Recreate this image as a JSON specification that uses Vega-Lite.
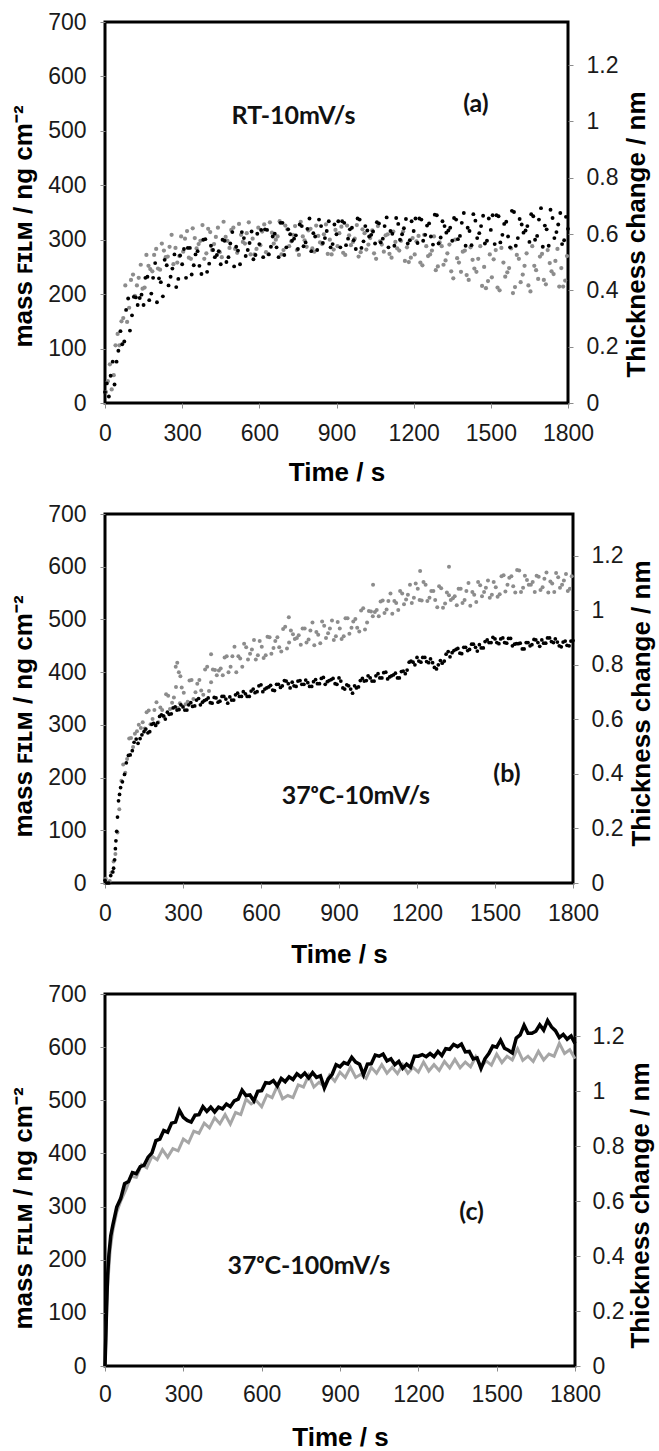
{
"$schema": "https://vega.github.io/schema/vega-lite/v6.json",
"background": "white",
"padding": {"left": 9, "top": 9, "right": 0, "bottom": 0},
"config": {
 "view": {"stroke": "#000", "strokeWidth": 3},
 "axis": {"grid": false, "domain": false, "tickSize": 5, "tickColor": "#8c8c8c", "tickWidth": 1, "labelFont": "Liberation Sans", "labelFontSize": 23, "labelColor": "#1a1a1a", "labelPadding": 14, "labelFlush": false, "labelOverlap": false, "labelBound": false, "titleFont": "Liberation Sans", "titleFontSize": 26, "titleFontWeight": "bold", "titleColor": "#000"}
},
"datasets": {
 "a_black": [
{"t":0,"m":20},{"t":15,"m":12},{"t":30,"m":76},{"t":45,"m":76},{"t":60,"m":132},{"t":75,"m":113},{"t":90,"m":192},{"t":105,"m":161},{"t":120,"m":194},{"t":135,"m":193},{"t":150,"m":180},{"t":165,"m":232},{"t":180,"m":201},{"t":195,"m":257},{"t":210,"m":229},{"t":225,"m":196},{"t":240,"m":253},{"t":255,"m":232},{"t":270,"m":273},{"t":285,"m":228},
{"t":300,"m":255},{"t":315,"m":230},{"t":330,"m":285},{"t":345,"m":253},{"t":360,"m":279},{"t":375,"m":237},{"t":390,"m":301},{"t":405,"m":256},{"t":420,"m":281},{"t":435,"m":272},{"t":450,"m":255},{"t":465,"m":298},{"t":480,"m":268},{"t":495,"m":314},{"t":510,"m":287},{"t":525,"m":255},{"t":540,"m":303},{"t":555,"m":281},{"t":570,"m":315},{"t":585,"m":272},
{"t":600,"m":292},{"t":615,"m":268},{"t":630,"m":318},{"t":645,"m":287},{"t":660,"m":311},{"t":675,"m":268},{"t":690,"m":331},{"t":705,"m":286},{"t":720,"m":310},{"t":735,"m":302},{"t":750,"m":283},{"t":765,"m":325},{"t":780,"m":295},{"t":795,"m":339},{"t":810,"m":312},{"t":825,"m":281},{"t":840,"m":325},{"t":855,"m":303},{"t":870,"m":334},{"t":885,"m":292},
{"t":900,"m":310},{"t":915,"m":286},{"t":930,"m":331},{"t":945,"m":302},{"t":960,"m":322},{"t":975,"m":283},{"t":990,"m":337},{"t":1005,"m":297},{"t":1020,"m":317},{"t":1035,"m":309},{"t":1050,"m":293},{"t":1065,"m":330},{"t":1080,"m":302},{"t":1095,"m":341},{"t":1110,"m":316},{"t":1125,"m":289},{"t":1140,"m":329},{"t":1155,"m":310},{"t":1170,"m":338},{"t":1185,"m":299},
{"t":1200,"m":316},{"t":1215,"m":294},{"t":1230,"m":337},{"t":1245,"m":309},{"t":1260,"m":330},{"t":1275,"m":291},{"t":1290,"m":345},{"t":1305,"m":304},{"t":1320,"m":325},{"t":1335,"m":317},{"t":1350,"m":298},{"t":1365,"m":337},{"t":1380,"m":307},{"t":1395,"m":349},{"t":1410,"m":322},{"t":1425,"m":290},{"t":1440,"m":335},{"t":1455,"m":312},{"t":1470,"m":344},{"t":1485,"m":298},
{"t":1500,"m":318},{"t":1515,"m":292},{"t":1530,"m":343},{"t":1545,"m":309},{"t":1560,"m":333},{"t":1575,"m":286},{"t":1590,"m":351},{"t":1605,"m":303},{"t":1620,"m":328},{"t":1635,"m":317},{"t":1650,"m":296},{"t":1665,"m":343},{"t":1680,"m":307},{"t":1695,"m":358},{"t":1710,"m":326},{"t":1725,"m":289},{"t":1740,"m":340},{"t":1755,"m":314},{"t":1770,"m":349},{"t":1785,"m":299},{"t":1800,"m":320},
{"t":7,"m":36},{"t":22,"m":50},{"t":37,"m":34},{"t":52,"m":96},{"t":67,"m":108},{"t":82,"m":171},{"t":97,"m":133},{"t":112,"m":195},{"t":127,"m":180},{"t":142,"m":199},{"t":157,"m":230},{"t":172,"m":189},{"t":187,"m":230},{"t":202,"m":185},{"t":217,"m":222},{"t":232,"m":263},{"t":247,"m":216},{"t":262,"m":247},{"t":277,"m":213},{"t":292,"m":271},
{"t":307,"m":283},{"t":322,"m":285},{"t":337,"m":236},{"t":352,"m":273},{"t":367,"m":252},{"t":382,"m":300},{"t":397,"m":241},{"t":412,"m":289},{"t":427,"m":268},{"t":442,"m":279},{"t":457,"m":300},{"t":472,"m":259},{"t":487,"m":293},{"t":502,"m":251},{"t":517,"m":280},{"t":532,"m":314},{"t":547,"m":270},{"t":562,"m":294},{"t":577,"m":264},{"t":592,"m":311},
{"t":607,"m":318},{"t":622,"m":319},{"t":637,"m":273},{"t":652,"m":306},{"t":667,"m":286},{"t":682,"m":331},{"t":697,"m":272},{"t":712,"m":319},{"t":727,"m":298},{"t":742,"m":308},{"t":757,"m":328},{"t":772,"m":288},{"t":787,"m":320},{"t":802,"m":279},{"t":817,"m":306},{"t":832,"m":337},{"t":847,"m":294},{"t":862,"m":316},{"t":877,"m":286},{"t":892,"m":328},
{"t":907,"m":334},{"t":922,"m":334},{"t":937,"m":290},{"t":952,"m":319},{"t":967,"m":299},{"t":982,"m":339},{"t":997,"m":285},{"t":1012,"m":325},{"t":1027,"m":306},{"t":1042,"m":315},{"t":1057,"m":332},{"t":1072,"m":295},{"t":1087,"m":325},{"t":1102,"m":286},{"t":1117,"m":311},{"t":1132,"m":340},{"t":1147,"m":300},{"t":1162,"m":321},{"t":1177,"m":293},{"t":1192,"m":334},
{"t":1207,"m":339},{"t":1222,"m":339},{"t":1237,"m":298},{"t":1252,"m":326},{"t":1267,"m":306},{"t":1282,"m":346},{"t":1297,"m":293},{"t":1312,"m":334},{"t":1327,"m":313},{"t":1342,"m":322},{"t":1357,"m":340},{"t":1372,"m":301},{"t":1387,"m":331},{"t":1402,"m":289},{"t":1417,"m":316},{"t":1432,"m":347},{"t":1447,"m":303},{"t":1462,"m":325},{"t":1477,"m":293},{"t":1492,"m":339},
{"t":1507,"m":345},{"t":1522,"m":345},{"t":1537,"m":295},{"t":1552,"m":329},{"t":1567,"m":306},{"t":1582,"m":353},{"t":1597,"m":289},{"t":1612,"m":338},{"t":1627,"m":313},{"t":1642,"m":325},{"t":1657,"m":347},{"t":1672,"m":300},{"t":1687,"m":337},{"t":1702,"m":287},{"t":1717,"m":319},{"t":1732,"m":355},{"t":1747,"m":303},{"t":1762,"m":328},{"t":1777,"m":292},{"t":1792,"m":342}
 ],
 "a_gray": [
{"t":4,"m":20},{"t":19,"m":71},{"t":34,"m":51},{"t":49,"m":127},{"t":64,"m":150},{"t":79,"m":216},{"t":94,"m":175},{"t":109,"m":236},{"t":124,"m":216},{"t":139,"m":254},{"t":154,"m":212},{"t":169,"m":252},{"t":184,"m":242},{"t":199,"m":283},{"t":214,"m":245},{"t":229,"m":280},{"t":244,"m":269},{"t":259,"m":309},{"t":274,"m":285},{"t":289,"m":270},
{"t":304,"m":278},{"t":319,"m":316},{"t":334,"m":265},{"t":349,"m":303},{"t":364,"m":292},{"t":379,"m":327},{"t":394,"m":275},{"t":409,"m":314},{"t":424,"m":292},{"t":439,"m":322},{"t":454,"m":268},{"t":469,"m":305},{"t":484,"m":285},{"t":499,"m":322},{"t":514,"m":276},{"t":529,"m":309},{"t":544,"m":293},{"t":559,"m":332},{"t":574,"m":302},{"t":589,"m":283},
{"t":604,"m":290},{"t":619,"m":328},{"t":634,"m":274},{"t":649,"m":313},{"t":664,"m":300},{"t":679,"m":334},{"t":694,"m":281},{"t":709,"m":319},{"t":724,"m":297},{"t":739,"m":325},{"t":754,"m":272},{"t":769,"m":306},{"t":784,"m":287},{"t":799,"m":320},{"t":814,"m":278},{"t":829,"m":307},{"t":844,"m":292},{"t":859,"m":328},{"t":874,"m":300},{"t":889,"m":282},
{"t":904,"m":288},{"t":919,"m":324},{"t":934,"m":272},{"t":949,"m":308},{"t":964,"m":296},{"t":979,"m":327},{"t":994,"m":277},{"t":1009,"m":312},{"t":1024,"m":291},{"t":1039,"m":317},{"t":1054,"m":265},{"t":1069,"m":297},{"t":1084,"m":278},{"t":1099,"m":310},{"t":1114,"m":267},{"t":1129,"m":296},{"t":1144,"m":280},{"t":1159,"m":315},{"t":1174,"m":286},{"t":1189,"m":267},
{"t":1204,"m":273},{"t":1219,"m":307},{"t":1234,"m":253},{"t":1249,"m":288},{"t":1264,"m":273},{"t":1279,"m":306},{"t":1294,"m":251},{"t":1309,"m":288},{"t":1324,"m":262},{"t":1339,"m":291},{"t":1354,"m":229},{"t":1369,"m":266},{"t":1384,"m":241},{"t":1399,"m":280},{"t":1414,"m":226},{"t":1429,"m":263},{"t":1444,"m":241},{"t":1459,"m":288},{"t":1474,"m":250},{"t":1489,"m":224},
{"t":1504,"m":231},{"t":1519,"m":281},{"t":1534,"m":207},{"t":1549,"m":258},{"t":1564,"m":240},{"t":1579,"m":284},{"t":1594,"m":213},{"t":1609,"m":265},{"t":1624,"m":236},{"t":1639,"m":275},{"t":1654,"m":205},{"t":1669,"m":252},{"t":1684,"m":228},{"t":1699,"m":274},{"t":1714,"m":218},{"t":1729,"m":257},{"t":1744,"m":237},{"t":1759,"m":283},{"t":1774,"m":248},{"t":1789,"m":225},
{"t":11,"m":40},{"t":26,"m":25},{"t":41,"m":106},{"t":56,"m":106},{"t":71,"m":156},{"t":86,"m":149},{"t":101,"m":226},{"t":116,"m":197},{"t":131,"m":230},{"t":146,"m":210},{"t":161,"m":272},{"t":176,"m":246},{"t":191,"m":272},{"t":206,"m":247},{"t":221,"m":293},{"t":236,"m":268},{"t":251,"m":287},{"t":266,"m":255},{"t":281,"m":258},{"t":296,"m":306},
{"t":311,"m":302},{"t":326,"m":267},{"t":341,"m":321},{"t":356,"m":284},{"t":371,"m":298},{"t":386,"m":265},{"t":401,"m":320},{"t":416,"m":281},{"t":431,"m":305},{"t":446,"m":277},{"t":461,"m":333},{"t":476,"m":298},{"t":491,"m":318},{"t":506,"m":283},{"t":521,"m":329},{"t":536,"m":296},{"t":551,"m":312},{"t":566,"m":273},{"t":581,"m":273},{"t":596,"m":322},
{"t":611,"m":315},{"t":626,"m":277},{"t":641,"m":332},{"t":656,"m":293},{"t":671,"m":306},{"t":686,"m":273},{"t":701,"m":326},{"t":716,"m":288},{"t":731,"m":309},{"t":746,"m":281},{"t":761,"m":333},{"t":776,"m":299},{"t":791,"m":317},{"t":806,"m":284},{"t":821,"m":326},{"t":836,"m":295},{"t":851,"m":310},{"t":866,"m":274},{"t":881,"m":273},{"t":896,"m":318},
{"t":911,"m":312},{"t":926,"m":276},{"t":941,"m":326},{"t":956,"m":290},{"t":971,"m":302},{"t":986,"m":269},{"t":1001,"m":319},{"t":1016,"m":282},{"t":1031,"m":303},{"t":1046,"m":275},{"t":1061,"m":325},{"t":1076,"m":291},{"t":1091,"m":308},{"t":1106,"m":274},{"t":1121,"m":315},{"t":1136,"m":284},{"t":1151,"m":298},{"t":1166,"m":261},{"t":1181,"m":259},{"t":1196,"m":303},
{"t":1211,"m":297},{"t":1226,"m":258},{"t":1241,"m":309},{"t":1256,"m":270},{"t":1271,"m":280},{"t":1286,"m":244},{"t":1301,"m":295},{"t":1316,"m":254},{"t":1331,"m":275},{"t":1346,"m":242},{"t":1361,"m":300},{"t":1376,"m":258},{"t":1391,"m":278},{"t":1406,"m":235},{"t":1421,"m":286},{"t":1436,"m":247},{"t":1451,"m":265},{"t":1466,"m":215},{"t":1481,"m":211},{"t":1496,"m":273},
{"t":1511,"m":264},{"t":1526,"m":212},{"t":1541,"m":285},{"t":1556,"m":232},{"t":1571,"m":248},{"t":1586,"m":202},{"t":1601,"m":272},{"t":1616,"m":222},{"t":1631,"m":252},{"t":1646,"m":216},{"t":1661,"m":288},{"t":1676,"m":244},{"t":1691,"m":269},{"t":1706,"m":226},{"t":1721,"m":281},{"t":1736,"m":242},{"t":1751,"m":261},{"t":1766,"m":214},{"t":1781,"m":214},{"t":1796,"m":270}
 ],
 "b_black": [
{"t":0,"m":5},{"t":15,"m":0},{"t":30,"m":21},{"t":45,"m":98},{"t":60,"m":181},{"t":75,"m":206},{"t":90,"m":242},{"t":105,"m":251},{"t":120,"m":273},{"t":135,"m":274},{"t":150,"m":287},{"t":165,"m":285},{"t":180,"m":301},{"t":195,"m":299},{"t":210,"m":316},{"t":225,"m":317},{"t":240,"m":324},{"t":255,"m":321},{"t":270,"m":334},{"t":285,"m":329},
{"t":300,"m":334},{"t":315,"m":328},{"t":330,"m":342},{"t":345,"m":336},{"t":360,"m":350},{"t":375,"m":343},{"t":390,"m":348},{"t":405,"m":342},{"t":420,"m":352},{"t":435,"m":343},{"t":450,"m":354},{"t":465,"m":349},{"t":480,"m":353},{"t":495,"m":347},{"t":510,"m":360},{"t":525,"m":354},{"t":540,"m":359},{"t":555,"m":354},{"t":570,"m":368},{"t":585,"m":363},
{"t":600,"m":376},{"t":615,"m":368},{"t":630,"m":372},{"t":645,"m":366},{"t":660,"m":377},{"t":675,"m":371},{"t":690,"m":384},{"t":705,"m":378},{"t":720,"m":381},{"t":735,"m":373},{"t":750,"m":384},{"t":765,"m":377},{"t":780,"m":380},{"t":795,"m":373},{"t":810,"m":386},{"t":825,"m":378},{"t":840,"m":390},{"t":855,"m":382},{"t":870,"m":386},{"t":885,"m":378},
{"t":900,"m":389},{"t":915,"m":370},{"t":930,"m":376},{"t":945,"m":368},{"t":960,"m":374},{"t":975,"m":372},{"t":990,"m":388},{"t":1005,"m":384},{"t":1020,"m":389},{"t":1035,"m":383},{"t":1050,"m":397},{"t":1065,"m":389},{"t":1080,"m":400},{"t":1095,"m":391},{"t":1110,"m":395},{"t":1125,"m":389},{"t":1140,"m":401},{"t":1155,"m":397},{"t":1170,"m":419},{"t":1185,"m":419},
{"t":1200,"m":428},{"t":1215,"m":419},{"t":1230,"m":428},{"t":1245,"m":418},{"t":1260,"m":418},{"t":1275,"m":406},{"t":1290,"m":422},{"t":1305,"m":421},{"t":1320,"m":439},{"t":1335,"m":437},{"t":1350,"m":443},{"t":1365,"m":436},{"t":1380,"m":447},{"t":1395,"m":441},{"t":1410,"m":453},{"t":1425,"m":447},{"t":1440,"m":452},{"t":1455,"m":446},{"t":1470,"m":461},{"t":1485,"m":456},
{"t":1500,"m":463},{"t":1515,"m":454},{"t":1530,"m":465},{"t":1545,"m":455},{"t":1560,"m":464},{"t":1575,"m":453},{"t":1590,"m":454},{"t":1605,"m":444},{"t":1620,"m":456},{"t":1635,"m":450},{"t":1650,"m":462},{"t":1665,"m":456},{"t":1680,"m":461},{"t":1695,"m":455},{"t":1710,"m":465},{"t":1725,"m":456},{"t":1740,"m":457},{"t":1755,"m":448},{"t":1770,"m":459},{"t":1785,"m":450},{"t":1800,"m":460},
{"t":7,"m":0},{"t":22,"m":14},{"t":37,"m":44},{"t":52,"m":156},{"t":67,"m":192},{"t":82,"m":228},{"t":97,"m":243},{"t":112,"m":267},{"t":127,"m":265},{"t":142,"m":281},{"t":157,"m":292},{"t":172,"m":287},{"t":187,"m":303},{"t":202,"m":304},{"t":217,"m":319},{"t":232,"m":311},{"t":247,"m":320},{"t":262,"m":332},{"t":277,"m":328},{"t":292,"m":338},
{"t":307,"m":328},{"t":322,"m":338},{"t":337,"m":335},{"t":352,"m":347},{"t":367,"m":338},{"t":382,"m":346},{"t":397,"m":351},{"t":412,"m":341},{"t":427,"m":351},{"t":442,"m":345},{"t":457,"m":354},{"t":472,"m":341},{"t":487,"m":347},{"t":502,"m":357},{"t":517,"m":354},{"t":532,"m":363},{"t":547,"m":354},{"t":562,"m":364},{"t":577,"m":361},{"t":592,"m":374},
{"t":607,"m":363},{"t":622,"m":370},{"t":637,"m":375},{"t":652,"m":365},{"t":667,"m":377},{"t":682,"m":374},{"t":697,"m":383},{"t":712,"m":370},{"t":727,"m":374},{"t":742,"m":383},{"t":757,"m":377},{"t":772,"m":385},{"t":787,"m":373},{"t":802,"m":382},{"t":817,"m":378},{"t":832,"m":388},{"t":847,"m":377},{"t":862,"m":384},{"t":877,"m":388},{"t":892,"m":377},
{"t":907,"m":383},{"t":922,"m":368},{"t":937,"m":374},{"t":952,"m":360},{"t":967,"m":370},{"t":982,"m":384},{"t":997,"m":383},{"t":1012,"m":393},{"t":1027,"m":383},{"t":1042,"m":393},{"t":1057,"m":389},{"t":1072,"m":399},{"t":1087,"m":387},{"t":1102,"m":393},{"t":1117,"m":398},{"t":1132,"m":389},{"t":1147,"m":402},{"t":1162,"m":404},{"t":1177,"m":421},{"t":1192,"m":414},
{"t":1207,"m":421},{"t":1222,"m":428},{"t":1237,"m":420},{"t":1252,"m":425},{"t":1267,"m":409},{"t":1282,"m":414},{"t":1297,"m":417},{"t":1312,"m":434},{"t":1327,"m":429},{"t":1342,"m":441},{"t":1357,"m":445},{"t":1372,"m":435},{"t":1387,"m":447},{"t":1402,"m":443},{"t":1417,"m":453},{"t":1432,"m":440},{"t":1447,"m":446},{"t":1462,"m":458},{"t":1477,"m":456},{"t":1492,"m":466},
{"t":1507,"m":456},{"t":1522,"m":463},{"t":1537,"m":456},{"t":1552,"m":464},{"t":1567,"m":450},{"t":1582,"m":454},{"t":1597,"m":455},{"t":1612,"m":444},{"t":1627,"m":456},{"t":1642,"m":452},{"t":1657,"m":461},{"t":1672,"m":449},{"t":1687,"m":455},{"t":1702,"m":465},{"t":1717,"m":458},{"t":1732,"m":463},{"t":1747,"m":450},{"t":1762,"m":457},{"t":1777,"m":451},{"t":1792,"m":459},
{"t":33,"m":28},{"t":40,"m":65},{"t":42,"m":80},{"t":48,"m":125},{"t":56,"m":168}
 ],
 "b_gray": [
{"t":3,"m":8},{"t":18,"m":4},{"t":33,"m":41},{"t":48,"m":96},{"t":63,"m":194},{"t":78,"m":209},{"t":93,"m":274},{"t":108,"m":258},{"t":123,"m":288},{"t":138,"m":294},{"t":153,"m":293},{"t":168,"m":327},{"t":183,"m":311},{"t":198,"m":343},{"t":213,"m":333},{"t":228,"m":315},{"t":243,"m":355},{"t":258,"m":342},{"t":273,"m":372},{"t":288,"m":341},
{"t":303,"m":361},{"t":318,"m":344},{"t":333,"m":385},{"t":348,"m":362},{"t":363,"m":385},{"t":378,"m":357},{"t":393,"m":410},{"t":408,"m":381},{"t":423,"m":404},{"t":438,"m":403},{"t":453,"m":394},{"t":468,"m":430},{"t":483,"m":410},{"t":498,"m":448},{"t":513,"m":430},{"t":528,"m":410},{"t":543,"m":447},{"t":558,"m":435},{"t":573,"m":461},{"t":588,"m":432},
{"t":603,"m":448},{"t":618,"m":432},{"t":633,"m":466},{"t":648,"m":446},{"t":663,"m":466},{"t":678,"m":439},{"t":693,"m":486},{"t":708,"m":456},{"t":723,"m":472},{"t":738,"m":465},{"t":753,"m":452},{"t":768,"m":483},{"t":783,"m":462},{"t":798,"m":494},{"t":813,"m":476},{"t":828,"m":455},{"t":843,"m":488},{"t":858,"m":474},{"t":873,"m":498},{"t":888,"m":468},
{"t":903,"m":483},{"t":918,"m":468},{"t":933,"m":502},{"t":948,"m":484},{"t":963,"m":501},{"t":978,"m":477},{"t":993,"m":521},{"t":1008,"m":494},{"t":1023,"m":515},{"t":1038,"m":514},{"t":1053,"m":506},{"t":1068,"m":536},{"t":1083,"m":519},{"t":1098,"m":549},{"t":1113,"m":535},{"t":1128,"m":518},{"t":1143,"m":549},{"t":1158,"m":538},{"t":1173,"m":566},{"t":1188,"m":541},
{"t":1203,"m":558},{"t":1218,"m":536},{"t":1233,"m":566},{"t":1248,"m":541},{"t":1263,"m":554},{"t":1278,"m":523},{"t":1293,"m":559},{"t":1308,"m":530},{"t":1323,"m":546},{"t":1338,"m":540},{"t":1353,"m":527},{"t":1368,"m":558},{"t":1383,"m":537},{"t":1398,"m":569},{"t":1413,"m":552},{"t":1428,"m":533},{"t":1443,"m":565},{"t":1458,"m":552},{"t":1473,"m":574},{"t":1488,"m":547},
{"t":1503,"m":561},{"t":1518,"m":548},{"t":1533,"m":584},{"t":1548,"m":566},{"t":1563,"m":582},{"t":1578,"m":551},{"t":1593,"m":593},{"t":1608,"m":560},{"t":1623,"m":575},{"t":1638,"m":566},{"t":1653,"m":552},{"t":1668,"m":581},{"t":1683,"m":561},{"t":1698,"m":589},{"t":1713,"m":572},{"t":1728,"m":552},{"t":1743,"m":580},{"t":1758,"m":566},{"t":1773,"m":586},{"t":1788,"m":558},
{"t":10,"m":1},{"t":25,"m":20},{"t":40,"m":55},{"t":55,"m":140},{"t":70,"m":225},{"t":85,"m":235},{"t":100,"m":275},{"t":115,"m":283},{"t":130,"m":300},{"t":145,"m":305},{"t":160,"m":324},{"t":175,"m":301},{"t":190,"m":328},{"t":205,"m":305},{"t":220,"m":328},{"t":235,"m":358},{"t":250,"m":330},{"t":265,"m":352},{"t":280,"m":332},{"t":295,"m":371},
{"t":310,"m":339},{"t":325,"m":384},{"t":340,"m":349},{"t":355,"m":378},{"t":370,"m":365},{"t":385,"m":405},{"t":400,"m":364},{"t":415,"m":405},{"t":430,"m":394},{"t":445,"m":407},{"t":460,"m":428},{"t":475,"m":400},{"t":490,"m":430},{"t":505,"m":400},{"t":520,"m":426},{"t":535,"m":454},{"t":550,"m":424},{"t":565,"m":443},{"t":580,"m":424},{"t":595,"m":459},
{"t":610,"m":427},{"t":625,"m":467},{"t":640,"m":435},{"t":655,"m":459},{"t":670,"m":447},{"t":685,"m":482},{"t":700,"m":445},{"t":715,"m":479},{"t":730,"m":463},{"t":745,"m":470},{"t":760,"m":483},{"t":775,"m":456},{"t":790,"m":479},{"t":805,"m":451},{"t":820,"m":471},{"t":835,"m":496},{"t":850,"m":465},{"t":865,"m":483},{"t":880,"m":461},{"t":895,"m":495},
{"t":910,"m":463},{"t":925,"m":502},{"t":940,"m":473},{"t":955,"m":496},{"t":970,"m":484},{"t":985,"m":517},{"t":1000,"m":481},{"t":1015,"m":516},{"t":1030,"m":506},{"t":1045,"m":518},{"t":1060,"m":534},{"t":1075,"m":512},{"t":1090,"m":535},{"t":1105,"m":511},{"t":1120,"m":531},{"t":1135,"m":554},{"t":1150,"m":529},{"t":1165,"m":547},{"t":1180,"m":531},{"t":1195,"m":568},
{"t":1210,"m":537},{"t":1225,"m":571},{"t":1240,"m":535},{"t":1255,"m":554},{"t":1270,"m":537},{"t":1285,"m":563},{"t":1300,"m":522},{"t":1315,"m":551},{"t":1330,"m":537},{"t":1345,"m":544},{"t":1360,"m":558},{"t":1375,"m":531},{"t":1390,"m":554},{"t":1405,"m":526},{"t":1420,"m":547},{"t":1435,"m":571},{"t":1450,"m":544},{"t":1465,"m":560},{"t":1480,"m":541},{"t":1495,"m":571},
{"t":1510,"m":543},{"t":1525,"m":582},{"t":1540,"m":553},{"t":1555,"m":579},{"t":1570,"m":563},{"t":1585,"m":594},{"t":1600,"m":552},{"t":1615,"m":583},{"t":1630,"m":566},{"t":1645,"m":571},{"t":1660,"m":583},{"t":1675,"m":556},{"t":1690,"m":577},{"t":1705,"m":551},{"t":1720,"m":568},{"t":1735,"m":588},{"t":1750,"m":560},{"t":1765,"m":574},{"t":1780,"m":554},{"t":1795,"m":582},
{"t":272,"m":410},{"t":278,"m":418},{"t":284,"m":400},{"t":290,"m":392},{"t":1212,"m":592},{"t":1323,"m":600},{"t":1031,"m":566},{"t":707,"m":504},{"t":408,"m":434}
 ],
 "c_gray": [
{"t":0,"m":0},{"t":5,"m":80},{"t":10,"m":150},{"t":20,"m":220},{"t":30,"m":255},{"t":45,"m":290},{"t":60,"m":310},{"t":80,"m":332},{"t":100,"m":357},{"t":120,"m":355},{"t":140,"m":379},{"t":160,"m":373},{"t":180,"m":395},{"t":200,"m":388},{"t":220,"m":407},{"t":240,"m":393},{"t":260,"m":409},{"t":280,"m":405},{"t":300,"m":427},{"t":320,"m":420},
{"t":340,"m":442},{"t":360,"m":438},{"t":380,"m":457},{"t":400,"m":448},{"t":420,"m":467},{"t":440,"m":456},{"t":460,"m":473},{"t":480,"m":455},{"t":500,"m":477},{"t":520,"m":473},{"t":540,"m":502},{"t":560,"m":493},{"t":580,"m":499},{"t":600,"m":488},{"t":620,"m":510},{"t":640,"m":505},{"t":660,"m":527},{"t":680,"m":503},{"t":700,"m":509},{"t":720,"m":505},
{"t":740,"m":529},{"t":760,"m":525},{"t":780,"m":547},{"t":800,"m":525},{"t":820,"m":534},{"t":840,"m":526},{"t":860,"m":547},{"t":880,"m":536},{"t":900,"m":553},{"t":920,"m":543},{"t":940,"m":562},{"t":960,"m":543},{"t":980,"m":549},{"t":1000,"m":541},{"t":1020,"m":562},{"t":1040,"m":551},{"t":1060,"m":567},{"t":1080,"m":551},{"t":1100,"m":562},{"t":1120,"m":550},
{"t":1140,"m":567},{"t":1160,"m":551},{"t":1180,"m":562},{"t":1200,"m":553},{"t":1220,"m":572},{"t":1240,"m":555},{"t":1260,"m":567},{"t":1280,"m":556},{"t":1300,"m":573},{"t":1320,"m":561},{"t":1340,"m":577},{"t":1360,"m":561},{"t":1380,"m":572},{"t":1400,"m":563},{"t":1420,"m":582},{"t":1440,"m":563},{"t":1460,"m":574},{"t":1480,"m":566},{"t":1500,"m":587},{"t":1520,"m":571},
{"t":1540,"m":583},{"t":1560,"m":576},{"t":1580,"m":597},{"t":1600,"m":575},{"t":1620,"m":583},{"t":1640,"m":573},{"t":1660,"m":592},{"t":1680,"m":576},{"t":1700,"m":587},{"t":1720,"m":583},{"t":1740,"m":607},{"t":1760,"m":588},{"t":1780,"m":595},{"t":1800,"m":578}
 ],
 "c_black": [
{"t":0,"m":0},{"t":3,"m":50},{"t":6,"m":110},{"t":10,"m":170},{"t":15,"m":210},{"t":22,"m":245},{"t":30,"m":265},{"t":45,"m":299},{"t":60,"m":315},{"t":75,"m":343},{"t":90,"m":347},{"t":105,"m":364},{"t":120,"m":362},{"t":135,"m":375},{"t":150,"m":378},{"t":165,"m":393},{"t":180,"m":401},{"t":195,"m":424},{"t":210,"m":427},{"t":225,"m":443},
{"t":240,"m":440},{"t":255,"m":457},{"t":270,"m":459},{"t":285,"m":481},{"t":300,"m":468},{"t":315,"m":462},{"t":330,"m":459},{"t":345,"m":472},{"t":360,"m":473},{"t":375,"m":488},{"t":390,"m":479},{"t":405,"m":487},{"t":420,"m":478},{"t":435,"m":487},{"t":450,"m":484},{"t":465,"m":493},{"t":480,"m":488},{"t":495,"m":499},{"t":510,"m":502},{"t":525,"m":519},
{"t":540,"m":509},{"t":555,"m":510},{"t":570,"m":499},{"t":585,"m":517},{"t":600,"m":518},{"t":615,"m":533},{"t":630,"m":532},{"t":645,"m":537},{"t":660,"m":527},{"t":675,"m":541},{"t":690,"m":535},{"t":705,"m":544},{"t":720,"m":539},{"t":735,"m":550},{"t":750,"m":544},{"t":765,"m":551},{"t":780,"m":542},{"t":795,"m":552},{"t":810,"m":543},{"t":825,"m":546},
{"t":840,"m":523},{"t":855,"m":540},{"t":870,"m":549},{"t":885,"m":567},{"t":900,"m":563},{"t":915,"m":571},{"t":930,"m":568},{"t":945,"m":581},{"t":960,"m":572},{"t":975,"m":568},{"t":990,"m":548},{"t":1005,"m":568},{"t":1020,"m":569},{"t":1035,"m":585},{"t":1050,"m":583},{"t":1065,"m":587},{"t":1080,"m":574},{"t":1095,"m":578},{"t":1110,"m":567},{"t":1125,"m":573},
{"t":1140,"m":560},{"t":1155,"m":568},{"t":1170,"m":562},{"t":1185,"m":583},{"t":1200,"m":583},{"t":1215,"m":586},{"t":1230,"m":582},{"t":1245,"m":588},{"t":1260,"m":582},{"t":1275,"m":592},{"t":1290,"m":584},{"t":1305,"m":597},{"t":1320,"m":596},{"t":1335,"m":605},{"t":1350,"m":601},{"t":1365,"m":606},{"t":1380,"m":591},{"t":1395,"m":592},{"t":1410,"m":578},{"t":1425,"m":580},
{"t":1440,"m":560},{"t":1455,"m":578},{"t":1470,"m":588},{"t":1485,"m":602},{"t":1500,"m":600},{"t":1515,"m":613},{"t":1530,"m":598},{"t":1545,"m":594},{"t":1560,"m":589},{"t":1575,"m":617},{"t":1590,"m":623},{"t":1605,"m":641},{"t":1620,"m":626},{"t":1635,"m":626},{"t":1650,"m":630},{"t":1665,"m":642},{"t":1680,"m":632},{"t":1695,"m":650},{"t":1710,"m":638},{"t":1725,"m":631},
{"t":1740,"m":618},{"t":1755,"m":624},{"t":1770,"m":615},{"t":1785,"m":621},{"t":1800,"m":607}
 ]
},
"spacing": 111,
"bounds": "flush",
"vconcat": [
 {
  "width": 463, "height": 381,
  "layer": [
   {"layer": [
    {"data": {"name": "a_gray"}, "mark": {"type": "circle", "size": 18, "color": "#8c8c8c", "opacity": 1},
     "encoding": {
      "x": {"field": "t", "type": "quantitative", "scale": {"domain": [0, 1800], "nice": false}, "axis": {"values": [0,300,600,900,1200,1500,1800], "format": "d", "title": "Time / s", "titlePadding": 14}},
      "y": {"field": "m", "type": "quantitative", "scale": {"domain": [0, 700], "nice": false}, "axis": {"values": [0,100,200,300,400,500,600,700], "format": "d", "title": "mass ꜰɪʟᴍ / ng cm⁻²", "titlePadding": 11, "titleY": 204}}}},
    {"data": {"name": "a_black"}, "mark": {"type": "circle", "size": 15, "color": "#000000", "opacity": 1},
     "encoding": {"x": {"field": "t", "type": "quantitative"}, "y": {"field": "m", "type": "quantitative"}}},
    {"data": {"values": [{}]}, "mark": {"type": "text", "font": "Lato", "fontWeight": "bold", "fontSize": 25, "color": "#111", "text": "RT-10mV/s", "baseline": "middle", "align": "center"},
     "encoding": {"x": {"datum": 733, "type": "quantitative"}, "y": {"datum": 527, "type": "quantitative"}}},
    {"data": {"values": [{}]}, "mark": {"type": "text", "font": "Lato", "fontWeight": "bold", "fontSize": 25, "color": "#111", "text": "(a)", "baseline": "middle", "align": "center"},
     "encoding": {"x": {"datum": 1442, "type": "quantitative"}, "y": {"datum": 549, "type": "quantitative"}}}
   ]},
   {"data": {"values": [{"h": 0}]}, "mark": {"type": "point", "opacity": 0},
    "encoding": {"y": {"field": "h", "type": "quantitative", "scale": {"domain": [0, 1.353], "nice": false},
      "axis": {"orient": "right", "values": [0,0.2,0.4,0.6,0.8,1,1.2], "format": "~g", "labelPadding": 13, "title": "Thickness change / nm", "titleAngle": 270, "titleBaseline": "top", "titlePadding": 6, "titleY": 212}}}}
  ],
  "resolve": {"scale": {"y": "independent"}}
 },
 {
  "width": 468, "height": 369,
  "layer": [
   {"layer": [
    {"data": {"name": "b_gray"}, "mark": {"type": "circle", "size": 16, "color": "#8c8c8c", "opacity": 1},
     "encoding": {
      "x": {"field": "t", "type": "quantitative", "scale": {"domain": [0, 1800], "nice": false}, "axis": {"values": [0,300,600,900,1200,1500,1800], "format": "d", "title": "Time / s", "titlePadding": 16}},
      "y": {"field": "m", "type": "quantitative", "scale": {"domain": [0, 700], "nice": false}, "axis": {"values": [0,100,200,300,400,500,600,700], "format": "d", "title": "mass ꜰɪʟᴍ / ng cm⁻²", "titlePadding": 11, "titleY": 202}}}},
    {"data": {"name": "b_black"}, "mark": {"type": "circle", "size": 14, "color": "#000000", "opacity": 1},
     "encoding": {"x": {"field": "t", "type": "quantitative"}, "y": {"field": "m", "type": "quantitative"}}},
    {"data": {"values": [{}]}, "mark": {"type": "text", "font": "Lato", "fontWeight": "bold", "fontSize": 25, "color": "#111", "text": "37ᵒC-10mV/s", "baseline": "middle", "align": "center"},
     "encoding": {"x": {"datum": 965, "type": "quantitative"}, "y": {"datum": 165, "type": "quantitative"}}},
    {"data": {"values": [{}]}, "mark": {"type": "text", "font": "Lato", "fontWeight": "bold", "fontSize": 25, "color": "#111", "text": "(b)", "baseline": "middle", "align": "center"},
     "encoding": {"x": {"datum": 1546, "type": "quantitative"}, "y": {"datum": 207, "type": "quantitative"}}}
   ]},
   {"data": {"values": [{"h": 0}]}, "mark": {"type": "point", "opacity": 0},
    "encoding": {"y": {"field": "h", "type": "quantitative", "scale": {"domain": [0, 1.353], "nice": false},
      "axis": {"orient": "right", "values": [0,0.2,0.4,0.6,0.8,1,1.2], "format": "~g", "labelPadding": 13, "title": "Thickness change / nm", "titleAngle": 270, "titleBaseline": "top", "titlePadding": 6, "titleY": 189}}}}
  ],
  "resolve": {"scale": {"y": "independent"}}
 },
 {
  "width": 470, "height": 372,
  "layer": [
   {"layer": [
    {"data": {"name": "c_gray"}, "mark": {"type": "line", "strokeWidth": 3, "color": "#a6a6a6"},
     "encoding": {
      "x": {"field": "t", "type": "quantitative", "scale": {"domain": [0, 1800], "nice": false}, "axis": {"values": [0,300,600,900,1200,1500,1800], "format": "d", "title": "Time / s", "labelPadding": 12, "titlePadding": 18}},
      "y": {"field": "m", "type": "quantitative", "scale": {"domain": [0, 700], "nice": false}, "axis": {"values": [0,100,200,300,400,500,600,700], "format": "d", "title": "mass ꜰɪʟᴍ / ng cm⁻²", "titlePadding": 11, "titleY": 214}}}},
    {"data": {"name": "c_black"}, "mark": {"type": "line", "strokeWidth": 3.5, "color": "#000000"},
     "encoding": {"x": {"field": "t", "type": "quantitative"}, "y": {"field": "m", "type": "quantitative"}}},
    {"data": {"values": [{}]}, "mark": {"type": "text", "font": "Lato", "fontWeight": "bold", "fontSize": 25, "color": "#111", "text": "37ᵒC-100mV/s", "baseline": "middle", "align": "center"},
     "encoding": {"x": {"datum": 781, "type": "quantitative"}, "y": {"datum": 188, "type": "quantitative"}}},
    {"data": {"values": [{}]}, "mark": {"type": "text", "font": "Lato", "fontWeight": "bold", "fontSize": 25, "color": "#111", "text": "(c)", "baseline": "middle", "align": "center"},
     "encoding": {"x": {"datum": 1404, "type": "quantitative"}, "y": {"datum": 290, "type": "quantitative"}}}
   ]},
   {"data": {"values": [{"h": 0}]}, "mark": {"type": "point", "opacity": 0},
    "encoding": {"y": {"field": "h", "type": "quantitative", "scale": {"domain": [0, 1.353], "nice": false},
      "axis": {"orient": "right", "values": [0,0.2,0.4,0.6,0.8,1,1.2], "format": "~g", "labelPadding": 12, "title": "Thickness change / nm", "titleAngle": 270, "titleBaseline": "top", "titlePadding": 4, "titleY": 211}}}}
  ],
  "resolve": {"scale": {"y": "independent"}}
 }
]
}
